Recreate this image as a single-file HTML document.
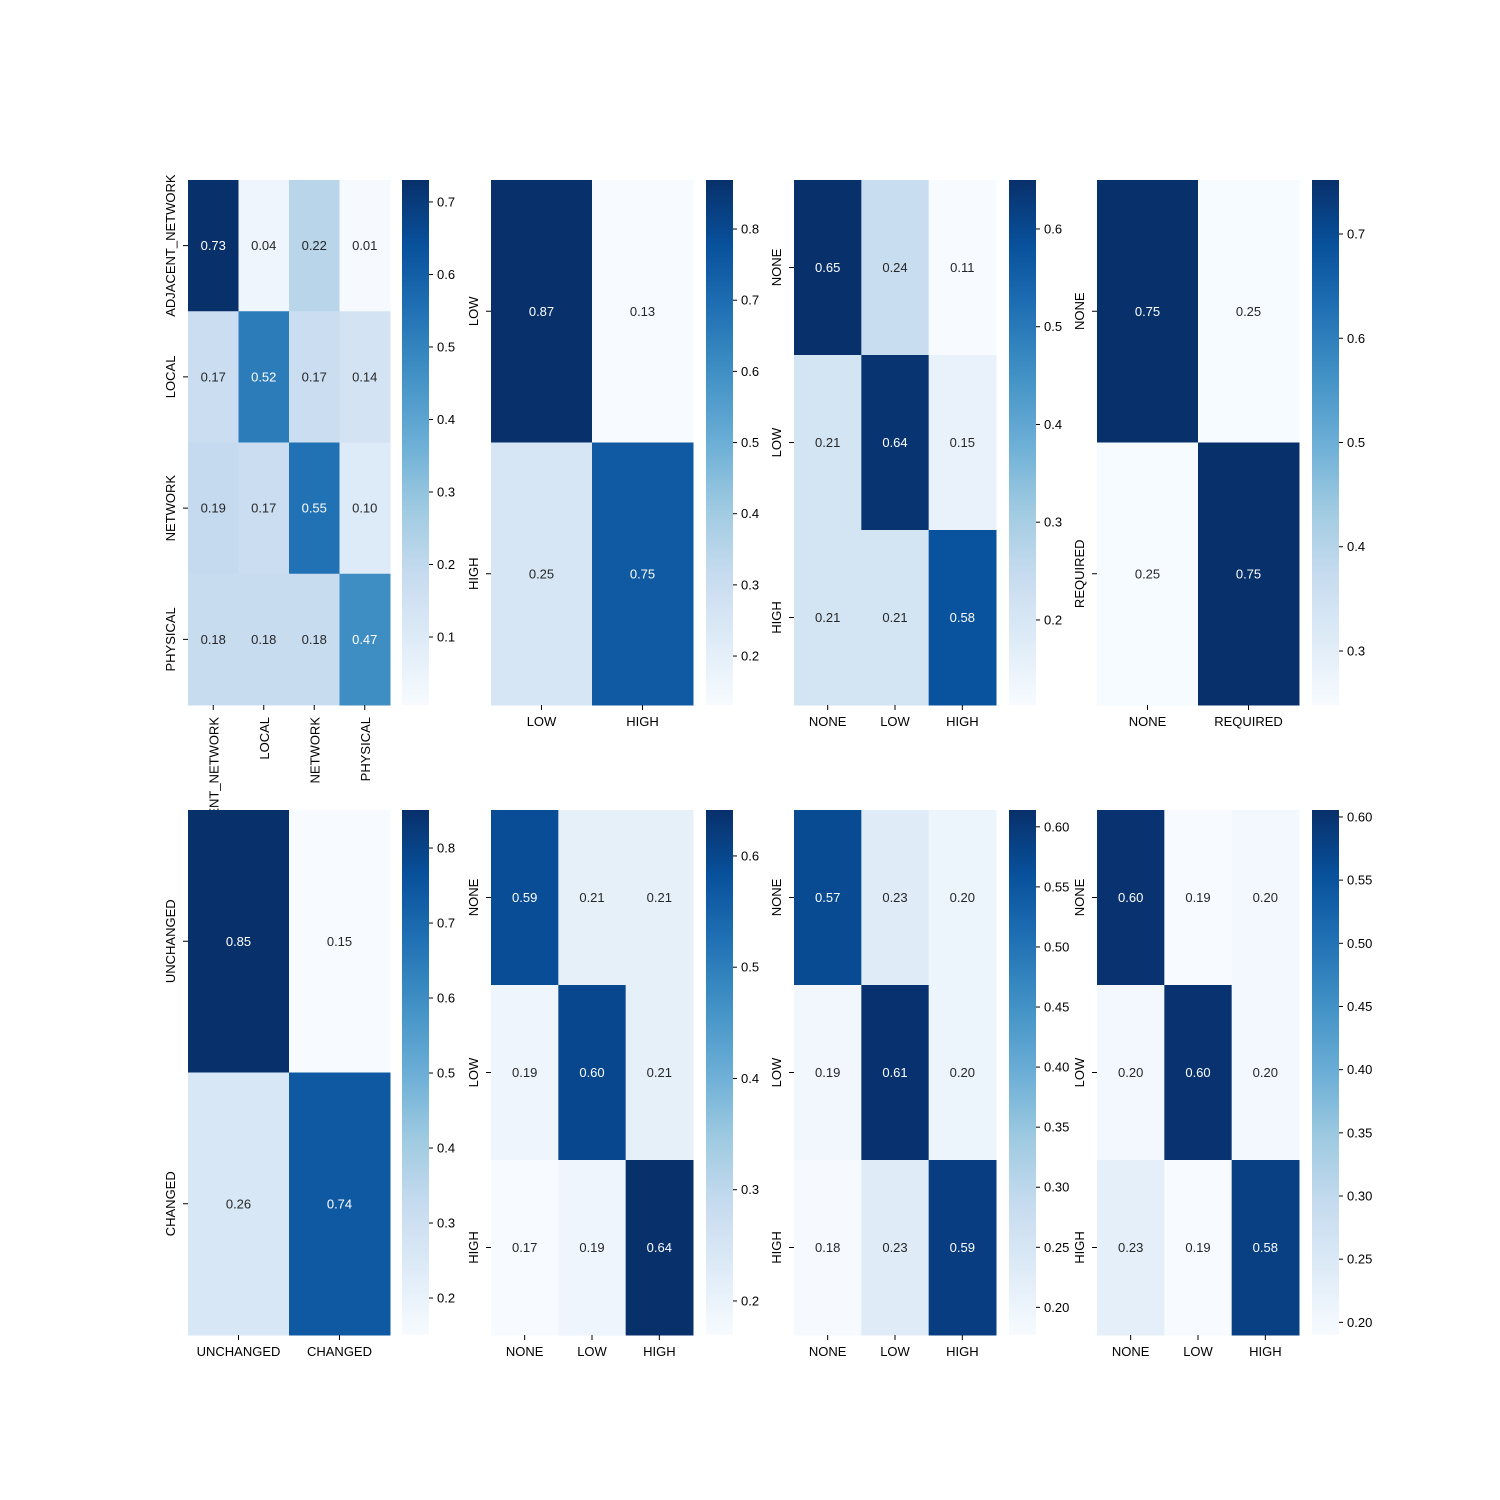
<!DOCTYPE html>
<html><head><meta charset="utf-8">
<style>
html,body{margin:0;padding:0;background:#fff;}
svg{display:block;font-family:"Liberation Sans","DejaVu Sans",sans-serif;}
</style></head>
<body>
<svg id="fig" width="1500" height="1500" viewBox="0 0 1500 1500" xmlns="http://www.w3.org/2000/svg">
<defs>
<clipPath id="clipTop"><rect x="0" y="0" width="1500" height="804"/></clipPath>
</defs>
<rect width="1500" height="1500" fill="#fff"/>
</svg>
<script>
// ---- data ----
const labelsAV = ["ADJACENT_NETWORK","LOCAL","NETWORK","PHYSICAL"];
const labelsLH = ["LOW","HIGH"];
const labelsNLH = ["NONE","LOW","HIGH"];
const labelsNR = ["NONE","REQUIRED"];
const labelsUC = ["UNCHANGED","CHANGED"];

const valsAV = [[0.73,0.04,0.22,0.01],[0.17,0.52,0.17,0.14],[0.19,0.17,0.55,0.10],[0.18,0.18,0.18,0.47]];
const valsAC = [[0.87,0.13],[0.25,0.75]];
const valsPR = [[0.65,0.24,0.11],[0.21,0.64,0.15],[0.21,0.21,0.58]];
const valsUI = [[0.75,0.25],[0.25,0.75]];
const valsS  = [[0.85,0.15],[0.26,0.74]];
const valsC  = [[0.59,0.21,0.21],[0.19,0.60,0.21],[0.17,0.19,0.64]];
const valsI  = [[0.57,0.23,0.20],[0.19,0.61,0.20],[0.18,0.23,0.59]];
const valsA  = [[0.60,0.19,0.20],[0.20,0.60,0.20],[0.23,0.19,0.58]];

const vmins = [0.0062,0.1312,0.113,0.2482,0.1507,0.1694,0.177,0.19];
const vmaxs = [0.7303,0.8689,0.6501,0.7518,0.8507,0.6413,0.614,0.6055];

const ticks1 = [0.1,0.2,0.3,0.4,0.5,0.6,0.7];
const ticks2 = [0.2,0.3,0.4,0.5,0.6,0.7,0.8];
const ticks3 = [0.2,0.3,0.4,0.5,0.6];
const ticks4 = [0.3,0.4,0.5,0.6,0.7];
const ticks5 = [0.2,0.3,0.4,0.5,0.6,0.7,0.8];
const ticks6 = [0.2,0.3,0.4,0.5,0.6];
const ticks7 = [0.20,0.25,0.30,0.35,0.40,0.45,0.50,0.55,0.60];
const ticks8 = [0.20,0.25,0.30,0.35,0.40,0.45,0.50,0.55,0.60];

const panelNames = ["attack-vector","attack-complexity","privileges-required","user-interaction","scope","confidentiality","integrity","availability"];
const panelVals = [valsAV,valsAC,valsPR,valsUI,valsS,valsC,valsI,valsA];
const panelLabels = [labelsAV,labelsLH,labelsNLH,labelsNR,labelsUC,labelsNLH,labelsNLH,labelsNLH];
const panelTicks = [ticks1,ticks2,ticks3,ticks4,ticks5,ticks6,ticks7,ticks8];
const tickDecimals = [1,1,1,1,1,1,2,2];

// ---- layout ----
const colX = [188,491,794,1097];
const cbX = [402,706,1009,1312];
const rowY = [180,810];
const W = 202, H = 525, CBW = 27;

const stops = [[0,"#f7fbff"],[0.125,"#deebf7"],[0.25,"#c6dbef"],[0.375,"#9ecae1"],[0.5,"#6baed6"],[0.625,"#4292c6"],[0.75,"#2171b5"],[0.875,"#08519c"],[1,"#08306b"]];
function hex(h){return [parseInt(h.substr(1,2),16),parseInt(h.substr(3,2),16),parseInt(h.substr(5,2),16)];}
function blues(t){
  t=Math.max(0,Math.min(1,t));
  for(let i=1;i<stops.length;i++){
    if(t<=stops[i][0]){
      const a=stops[i-1],b=stops[i];const f=(t-a[0])/(b[0]-a[0]);
      const ca=hex(a[1]),cb=hex(b[1]);
      return "rgb("+ca.map((v,k)=>Math.round(v+(cb[k]-v)*f)).join(",")+")";
    }
  }
  return stops[stops.length-1][1];
}
const NS="http://www.w3.org/2000/svg";
const svg=document.getElementById("fig");
const defs=svg.querySelector("defs");
function mk(tag,attrs,parent){const e=document.createElementNS(NS,tag);for(const k in attrs)e.setAttribute(k,attrs[k]);(parent||svg).appendChild(e);return e;}

// gradient
const grad=mk("linearGradient",{id:"bluesGrad",x1:"0",y1:"1",x2:"0",y2:"0"},defs);
stops.forEach(s=>mk("stop",{offset:s[0],"stop-color":s[1]},grad));

for(let p=0;p<8;p++){
  const vals=panelVals[p], labs=panelLabels[p], n=labs.length;
  const x0=colX[p%4], y0=rowY[Math.floor(p/4)];
  const vmin=vmins[p], vmax=vmaxs[p];
  const g=mk("g",{});
  
  
  const cw=W/n, ch=H/n;
  for(let r=0;r<n;r++)for(let c=0;c<n;c++){
    const v=vals[r][c], t=(v-vmin)/(vmax-vmin);
    const rect=mk("rect",{x:x0+c*cw,y:y0+r*ch,width:cw+0.5,height:ch+0.5,fill:blues(t)},g);
    
    
    const tx=mk("text",{x:x0+(c+0.5)*cw,y:y0+(r+0.5)*ch+4.5,"text-anchor":"middle","font-size":"13",fill:t>0.55?"#fff":"#262626"},g);
    tx.textContent=v.toFixed(2);
    
    
  }
  // y labels
  for(let r=0;r<n;r++){
    const cy=y0+(r+0.5)*ch;
    mk("line",{x1:x0-5,y1:cy,x2:x0,y2:cy,stroke:"#000","stroke-width":1},g);
    const tx=mk("text",{x:x0-13,y:cy,"text-anchor":"middle","font-size":"13",fill:"#000",transform:"rotate(-90 "+(x0-13)+" "+cy+")",dy:"0"},g);
    tx.setAttribute("x",x0-13);
    tx.textContent=labs[r];
    
    
    tx.setAttribute("dominant-baseline","auto");
    tx.setAttribute("transform","rotate(-90 "+(x0-13)+" "+cy+")");
    tx.setAttribute("y",cy+0);
  }
  // x labels
  for(let c=0;c<n;c++){
    const cx=x0+(c+0.5)*cw, yb=y0+H;
    mk("line",{x1:cx,y1:yb,x2:cx,y2:yb+5,stroke:"#000","stroke-width":1},g);
    let tx;
    if(p===0){
      tx=mk("text",{x:cx+5,y:yb+12,"text-anchor":"end","font-size":"13",fill:"#000",transform:"rotate(-90 "+(cx+5)+" "+(yb+12)+")","clip-path":"url(#clipTop)"},g);
      tx.setAttribute("transform","rotate(-90 "+(cx)+" "+(yb+12)+") translate(0 5)");
      tx.setAttribute("x",cx);
    } else {
      tx=mk("text",{x:cx,y:yb+21,"text-anchor":"middle","font-size":"13",fill:"#000"},g);
    }
    tx.textContent=labs[c];
    
    
  }
  // colorbar
  const cx0=cbX[p%4];
  const cb=mk("g",{});
  
  
  mk("rect",{x:cx0,y:y0,width:CBW,height:H,fill:"url(#bluesGrad)"},cb);
  panelTicks[p].forEach(tv=>{
    const ty=y0+(vmax-tv)/(vmax-vmin)*H;
    mk("line",{x1:cx0+CBW,y1:ty,x2:cx0+CBW+4,y2:ty,stroke:"#000","stroke-width":1},cb);
    const tx=mk("text",{x:cx0+CBW+8,y:ty+4.5,"font-size":"13",fill:"#000"},cb);
    tx.textContent=tv.toFixed(tickDecimals[p]);
    
    
  });
}
</script>
</body></html>
